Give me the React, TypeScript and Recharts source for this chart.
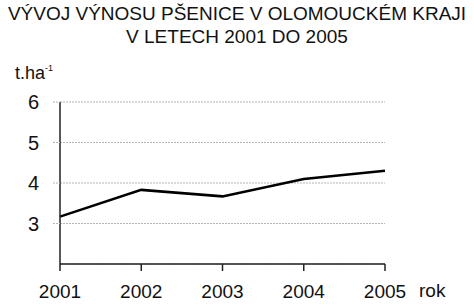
import { LineChart, Line, XAxis, YAxis, CartesianGrid } from 'recharts';

const years = ['2001', '2002', '2003', '2004', '2005'];
const yields = [3.17, 3.83, 3.67, 4.1, 4.3];
const yTicks = [3, 4, 5, 6];

const titleLines = ['VÝVOJ VÝNOSU PŠENICE V OLOMOUCKÉM KRAJI', 'V LETECH 2001 DO 2005'];

const data = years.map((year, i) => ({ year, value: yields[i] }));

const font = '"Liberation Sans", Arial, sans-serif';

const App = () => {
  return (
    <div
      style={{
        position: 'absolute',
        left: 0,
        top: 0,
        width: 474,
        height: 307,
        background: '#fff',
        fontFamily: font,
        color: '#111',
      }}
    >
      {titleLines.map((line, i) => (
        <div
          key={line}
          style={{
            position: 'absolute',
            left: 0,
            width: 474,
            top: 3 + i * 23,
            textAlign: 'center',
            fontSize: 19,
            lineHeight: '22px',
          }}
        >
          {line}
        </div>
      ))}
      <div style={{ position: 'absolute', left: 15, top: 58, fontSize: 18, lineHeight: '20px' }}>
        t.ha<sup style={{ fontSize: 9, verticalAlign: 8 }}>-1</sup>
      </div>
      <div style={{ position: 'absolute', left: 419, top: 280, fontSize: 19, lineHeight: '22px' }}>
        rok
      </div>
      <LineChart
        width={474}
        height={307}
        data={data}
        margin={{ top: 102, right: 89, bottom: 13, left: 0 }}
      >
        <CartesianGrid vertical={false} stroke="#b5b5b5" strokeDasharray="2 1" />
        <XAxis
          dataKey="year"
          axisLine={{ stroke: '#222', strokeWidth: 1.5 }}
          tickLine={{ stroke: '#222', strokeWidth: 1.5 }}
          tickSize={7}
          tickMargin={14}
          height={30}
          tick={{ fill: '#111', fontSize: 19, fontFamily: font }}
        />
        <YAxis
          domain={[2, 6]}
          ticks={yTicks}
          width={60}
          axisLine={{ stroke: '#222', strokeWidth: 1.5 }}
          tickLine={{ stroke: '#b5b5b5', strokeDasharray: '2 1' }}
          tickSize={7}
          tickMargin={14}
          tick={{ fill: '#111', fontSize: 20, fontFamily: font }}
        />
        <Line
          type="linear"
          dataKey="value"
          stroke="#000"
          strokeWidth={2.5}
          dot={false}
          isAnimationActive={false}
        />
      </LineChart>
    </div>
  );
};

export default App;
